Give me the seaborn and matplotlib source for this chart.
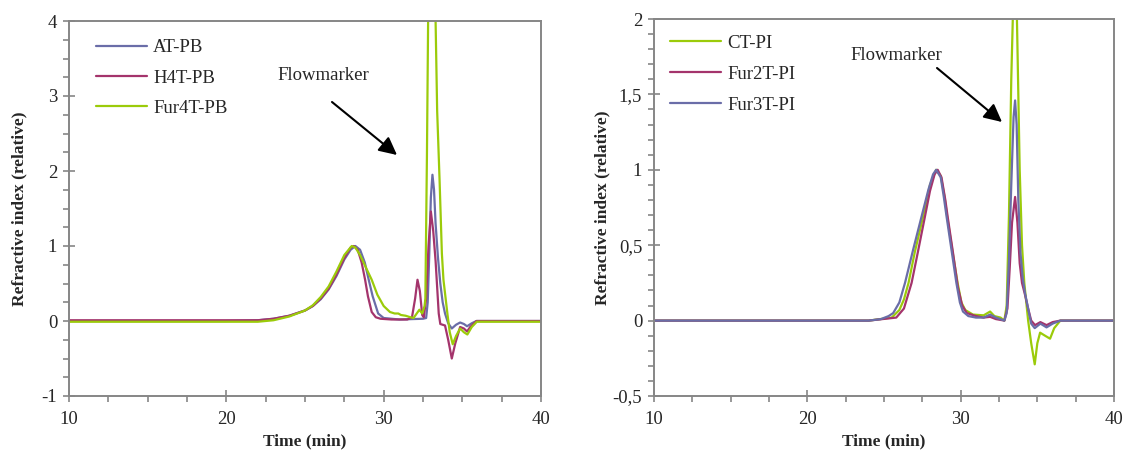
import numpy as np
import pandas as pd
import matplotlib
matplotlib.use("Agg")
import matplotlib.pyplot as plt
import seaborn as sns

# ---------------- data: left panel (PB) ----------------
at_pb_t = [10, 20, 22, 23, 24, 25, 25.5, 26, 26.5, 27, 27.5, 27.9, 28.2, 28.5, 28.8, 29.05, 29.3, 29.65,
           30.0, 31.0, 32.5, 32.7, 32.8, 32.9, 33.0, 33.1, 33.2, 33.3, 33.45, 33.6, 33.75, 33.9, 34.1,
           34.33, 34.6, 34.86, 35.1, 35.3, 35.6, 35.9, 37, 40]
at_pb_v = [0, 0, 0.01, 0.03, 0.07, 0.14, 0.2, 0.29, 0.42, 0.6, 0.82, 0.95, 1.0, 0.95, 0.78, 0.55, 0.33, 0.1,
           0.04, 0.02, 0.03, 0.04, 0.25, 0.9, 1.65, 1.95, 1.75, 1.3, 0.85, 0.5, 0.25, 0.1, -0.03,
           -0.1, -0.05, -0.02, -0.04, -0.07, -0.03, 0, 0, 0]

h4t_pb_t = [10, 22, 23, 24, 25, 25.5, 26, 26.5, 27, 27.5, 27.9, 28.1, 28.35, 28.6, 28.82, 29.0, 29.24,
            29.5, 29.8, 30.5, 31.5, 31.8, 32.0, 32.15, 32.3, 32.45, 32.55, 32.7, 32.85, 33.0, 33.15,
            33.3, 33.4, 33.5, 33.6, 33.9, 34.1, 34.33, 34.55, 34.86, 35.1, 35.3, 35.5, 35.9, 40]
h4t_pb_v = [0.01, 0.01, 0.03, 0.07, 0.14, 0.2, 0.3, 0.43, 0.62, 0.84, 0.98, 1.0, 0.95, 0.78, 0.55, 0.33, 0.12,
            0.05, 0.03, 0.02, 0.02, 0.05, 0.3, 0.55, 0.4, 0.08, 0.05, 0.3, 1.0, 1.46, 1.2,
            0.8, 0.45, 0.1, -0.04, -0.06, -0.25, -0.5, -0.3, -0.08, -0.1, -0.14, -0.08, 0.0, 0.0]

fur4t_pb_t = [10, 22, 23, 24, 25, 25.5, 26, 26.5, 27, 27.5, 27.97, 28.2, 28.5, 28.9, 29.24, 29.6, 30.0,
              30.4, 30.7, 30.93, 31.1, 31.4, 31.7, 31.9, 32.1, 32.27, 32.45, 32.6, 32.65, 32.75, 32.85,
              33.05, 33.25, 33.4, 33.55, 33.7, 33.8, 34.05, 34.2, 34.39, 34.6, 34.86, 35.1, 35.32, 35.6,
              35.92, 40]
fur4t_pb_v = [-0.01, -0.01, 0.01, 0.06, 0.14, 0.21, 0.32, 0.46, 0.66, 0.88, 1.0, 0.98, 0.88, 0.7, 0.55, 0.35, 0.2,
              0.12, 0.1, 0.1, 0.08, 0.07, 0.05, 0.04, 0.1, 0.15, 0.1, 0.2, 0.3, 2.2, 4.6,
              6.5, 4.6, 2.8, 1.9, 0.9, 0.55, 0.1, -0.15, -0.31, -0.2, -0.1, -0.15, -0.18, -0.08,
              -0.01, -0.01]

# ---------------- data: right panel (PI) ----------------
ct_pi_t = [10, 24, 25.5, 26.0, 26.3, 26.6, 27.0, 27.55, 28.0, 28.4, 28.7, 28.95, 29.12, 29.45, 29.8, 30.05,
           30.3, 30.8, 31.5, 31.92, 32.2, 32.6, 32.85, 33.0, 33.15, 33.3, 33.4, 33.55, 33.67, 33.85, 34.0,
           34.15, 34.4, 34.6, 34.83, 35.0, 35.18, 35.5, 35.83, 36.1, 36.5, 40]
ct_pi_v = [0, 0, 0.02, 0.07, 0.14, 0.25, 0.45, 0.69, 0.9, 1.0, 0.96, 0.82, 0.69, 0.47, 0.25, 0.12,
           0.07, 0.04, 0.035, 0.06, 0.03, 0.02, 0.0, 0.1, 0.7, 1.6, 2.0, 2.6, 2.0, 1.0, 0.5,
           0.25, 0.0, -0.15, -0.29, -0.15, -0.08, -0.1, -0.12, -0.05, 0, 0]

fur2t_pi_t = [10, 24, 25.8, 26.3, 26.8, 27.2, 27.67, 28.0, 28.3, 28.5, 28.75, 29.0, 29.15, 29.5, 29.82,
              30.1, 30.4, 31.0, 31.5, 31.92, 32.3, 32.85, 33.05, 33.2, 33.35, 33.55, 33.7, 33.85, 34.0,
              34.2, 34.4, 34.6, 34.85, 35.2, 35.6, 36.0, 36.5, 40]
fur2t_pi_v = [0, 0, 0.02, 0.08, 0.25, 0.45, 0.69, 0.86, 0.97, 1.0, 0.95, 0.8, 0.69, 0.45, 0.22,
              0.1, 0.05, 0.03, 0.02, 0.025, 0.01, 0.0, 0.08, 0.35, 0.65, 0.82, 0.65, 0.38, 0.25,
              0.17, 0.08, 0.0, -0.03, -0.01, -0.03, -0.01, 0, 0]

fur3t_pi_t = [10, 24, 24.8, 25.3, 25.6, 26.0, 26.37, 26.9, 27.45, 27.9, 28.2, 28.4, 28.7, 28.9, 29.08,
              29.4, 29.72, 29.95, 30.15, 30.5, 31.0, 31.5, 31.92, 32.3, 32.85, 33.0, 33.15, 33.3, 33.45,
              33.55, 33.65, 33.76, 33.9, 34.05, 34.2, 34.4, 34.6, 34.83, 35.2, 35.6, 36.0, 36.5, 40]
fur3t_pi_v = [0, 0, 0.01, 0.03, 0.05, 0.12, 0.25, 0.47, 0.69, 0.87, 0.97, 1.0, 0.95, 0.82, 0.69,
              0.47, 0.25, 0.12, 0.06, 0.03, 0.02, 0.02, 0.04, 0.02, 0.0, 0.05, 0.4, 0.9, 1.35,
              1.46, 1.3, 0.8, 0.45, 0.28, 0.18, 0.08, -0.02, -0.05, -0.02, -0.045, -0.02, 0, 0]

left_yticks = [-1, 0, 1, 2, 3, 4]
left_yticklabels = ["-1", "0", "1", "2", "3", "4"]
right_yticks = [-0.5, 0, 0.5, 1, 1.5, 2]
right_yticklabels = ["-0,5", "0", "0,5", "1", "1,5", "2"]
xticks = [10, 20, 30, 40]
xticklabels = ["10", "20", "30", "40"]

BLUE = "#6A6DA8"
MAGENTA = "#A4346C"
GREEN = "#9BCB0A"
GRAY = "#868686"
FS = 13.5
LFS = 12.5

sns.set_style("white")
plt.rcParams["font.family"] = ["Liberation Serif", "DejaVu Serif"]
plt.rcParams["font.size"] = FS

fig = plt.figure(figsize=(11.25, 4.57), dpi=100)
axL = fig.add_axes([69 / 1125, 1 - 396 / 457, (541 - 69) / 1125, (396 - 21) / 457])
axR = fig.add_axes([654 / 1125, 1 - 396 / 457, (1114 - 654) / 1125, (396 - 19) / 457])


def series(t, v, name):
    return pd.DataFrame({"t": t, "v": v, "name": name})


left_series = [(at_pb_t, at_pb_v, "AT-PB", BLUE),
               (h4t_pb_t, h4t_pb_v, "H4T-PB", MAGENTA),
               (fur4t_pb_t, fur4t_pb_v, "Fur4T-PB", GREEN)]
right_series = [(ct_pi_t, ct_pi_v, "CT-PI", GREEN),
                (fur2t_pi_t, fur2t_pi_v, "Fur2T-PI", MAGENTA),
                (fur3t_pi_t, fur3t_pi_v, "Fur3T-PI", BLUE)]

for ax, lst in ((axL, left_series), (axR, right_series)):
    for t, v, name, col in lst:
        df = series(t, v, name)
        sns.lineplot(data=df, x="t", y="v", ax=ax, color=col, lw=1.6, label=name,
                     estimator=None, sort=False)

axL.set_ylim(-1, 4)
axR.set_ylim(-0.5, 2)
for ax in (axL, axR):
    ax.set_xlim(10, 40)
    ax.set_xticks(xticks)
    ax.set_xticklabels(xticklabels)
    ax.set_xticks(np.arange(10, 40.01, 2.5), minor=True)
    for s in ax.spines.values():
        s.set_color(GRAY)
        s.set_linewidth(1.4)
    ax.tick_params(which="major", direction="inout", length=9, width=1.2, color=GRAY,
                   labelsize=FS, pad=4)
    ax.tick_params(axis="x", which="major", pad=6)
    ax.tick_params(which="minor", direction="out", length=4, width=1.2, color=GRAY)
    ax.tick_params(axis="both", which="both", bottom=True, left=True, top=False, right=False)
    ax.set_xlabel("Time (min)", fontweight="bold", fontsize=LFS, labelpad=4)
    ax.set_ylabel("Refractive index (relative)", fontweight="bold", fontsize=LFS)
    ax.grid(False)

axL.legend(loc="upper left", bbox_to_anchor=(0.057, 0.951), frameon=False, fontsize=FS,
           handlelength=2.7, handletextpad=0.35, labelspacing=0.7, borderpad=0, borderaxespad=0)
axR.legend(loc="upper left", bbox_to_anchor=(0.035, 0.959), frameon=False, fontsize=FS,
           handlelength=2.7, handletextpad=0.35, labelspacing=0.75, borderpad=0, borderaxespad=0)

axL.set_yticks(left_yticks)
axL.set_yticklabels(left_yticklabels)
axL.set_yticks(np.arange(-1, 4.01, 0.25), minor=True)
axR.set_yticks(right_yticks)
axR.set_yticklabels(right_yticklabels)
axR.set_yticks(np.arange(-0.5, 2.001, 0.1), minor=True)
axL.yaxis.set_label_coords(-0.089, 0.5)
axR.yaxis.set_label_coords(-0.095, 0.5)

# Flowmarker annotations
fig.text(277 / 1125, 1 - 75 / 457, "Flowmarker", fontsize=FS, va="center", ha="left")
fig.text(850 / 1125, 1 - 55 / 457, "Flowmarker", fontsize=FS, va="center", ha="left")
for (x0, y0, x1, y1) in ((332, 102, 397, 155), (937, 68, 1002, 122)):
    fig.add_artist(matplotlib.patches.FancyArrowPatch(
        (x0 / 1125, 1 - y0 / 457), (x1 / 1125, 1 - y1 / 457), transform=fig.transFigure,
        arrowstyle="-|>,head_length=0.9,head_width=0.45", color="black", lw=1.5,
        mutation_scale=12, shrinkA=0, shrinkB=0))

fig.savefig("out.png", dpi=100)
